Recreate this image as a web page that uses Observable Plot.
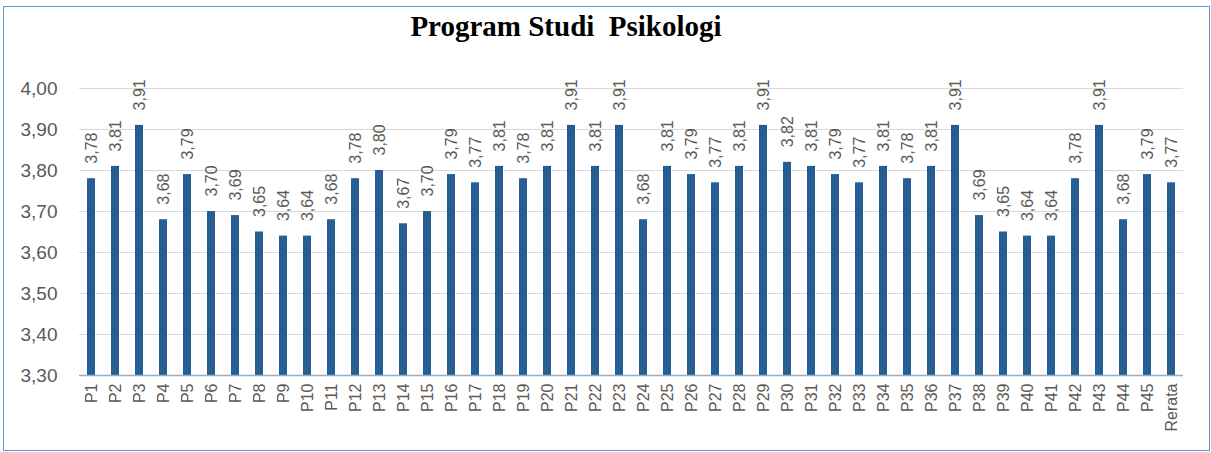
<!DOCTYPE html>
<html><head><meta charset="utf-8">
<script src="https://cdn.jsdelivr.net/npm/d3@7"></script>
<script src="https://cdn.jsdelivr.net/npm/@observablehq/plot@0.6"></script>
<style>
body{margin:0;background:#fff;width:1211px;height:452px;overflow:hidden;position:relative;font-family:"Liberation Sans",Arial,sans-serif;}
#title{height:50px;position:relative;}
#title span{position:absolute;left:0;width:1132px;top:12px;text-align:center;font-family:"Liberation Serif","Times New Roman",serif;font-weight:bold;font-size:29px;line-height:29px;color:#000;white-space:pre;}
#chart{height:402px;}
#frame{position:absolute;left:3px;top:6px;width:1207px;height:445px;box-sizing:border-box;border:1.5px solid #5b9bd5;pointer-events:none;}
</style></head>
<body>
<div id="title"><span>Program Studi  Psikologi</span></div>
<div id="chart"></div>
<div id="frame"></div>
<script>
const categories = ["P1","P2","P3","P4","P5","P6","P7","P8","P9","P10","P11","P12","P13","P14","P15","P16","P17","P18","P19","P20","P21","P22","P23","P24","P25","P26","P27","P28","P29","P30","P31","P32","P33","P34","P35","P36","P37","P38","P39","P40","P41","P42","P43","P44","P45","Rerata"];
const values = [3.78,3.81,3.91,3.68,3.79,3.70,3.69,3.65,3.64,3.64,3.68,3.78,3.80,3.67,3.70,3.79,3.77,3.81,3.78,3.81,3.91,3.81,3.91,3.68,3.81,3.79,3.77,3.81,3.91,3.82,3.81,3.79,3.77,3.81,3.78,3.81,3.91,3.69,3.65,3.64,3.64,3.78,3.91,3.68,3.79,3.77];
const yTicks = [3.3,3.4,3.5,3.6,3.7,3.8,3.9,4.0];
const yDomain = [3.3, 4.0];

const data = categories.map((c, i) => ({cat: c, value: values[i]}));
const fmt = v => d3.format(".2f")(v).replace(".", ",");

const chart = Plot.plot({
  width: 1211, height: 402,
  marginTop: 38, marginBottom: 77, marginLeft: 79, marginRight: 28,
  style: {fontFamily: '"Liberation Sans", Arial, sans-serif', background: "transparent", overflow: "visible"},
  x: {domain: categories, paddingInner: 0.667, paddingOuter: 0.333, label: null},
  y: {domain: yDomain, label: null},
  marks: [
    Plot.gridY(yTicks, {stroke: "#d9d9d9", strokeOpacity: 1}),
    Plot.barY(data, {x: "cat", y1: yDomain[0], y2: "value", fill: "#255e91"}),
    Plot.ruleY([yDomain[0]], {stroke: "#8eb0dc", strokeWidth: 1.5}),
    Plot.axisY({ticks: yTicks, tickSize: 0, tickPadding: 22, tickFormat: fmt, fontSize: 19, fill: "#595959", label: null}),
    Plot.axisX({tickSize: 0, tickPadding: 8, tickRotate: -90, fontSize: 16, fill: "#595959", label: null}),
    Plot.text(data, {x: "cat", y: "value", text: d => fmt(d.value), rotate: -90, textAnchor: "start", dy: -15, fontSize: 16, fill: "#595959"})
  ]
});
document.getElementById("chart").appendChild(chart);
</script>
</body></html>
